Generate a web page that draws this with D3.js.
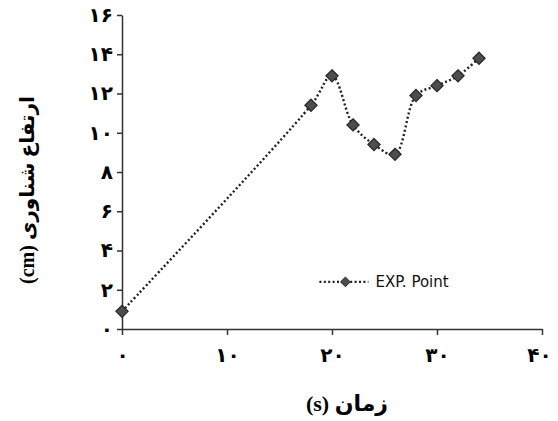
<!DOCTYPE html>
<html>
<head>
<meta charset="utf-8">
<script src="https://cdn.jsdelivr.net/npm/d3@7"></script>
<style>
  body { margin: 0; background: #fff; }
  #chart { width: 558px; height: 421px; }
</style>
</head>
<body>
<div id="chart"></div>
<script>
// time (s) and float height (cm)
const timeVals = [0, 18, 20, 22, 24, 26, 28, 30, 32, 34];
const heightVals = [0.9, 11.4, 12.9, 10.4, 9.4, 8.9, 11.9, 12.4, 12.9, 13.8];
const xTicks = [0, 10, 20, 30, 40];
const yTicks = [0, 2, 4, 6, 8, 10, 12, 14, 16];
const seriesName = "EXP. Point";
const xTitle = "زمان (s)";
const yTitle = "ارتفاع شناوری (cm)";

// persian digits for tick labels
const faDigits = "۰۱۲۳۴۵۶۷۸۹";
function toFa(n) { return String(n).replace(/[0-9]/g, d => faDigits[+d]); }

const margin = {top: 15, right: 16, bottom: 92, left: 122};
const W = 558, H = 421;
const width = W - margin.left - margin.right;
const height = H - margin.top - margin.bottom;

const svg = d3.select("#chart").append("svg")
  .attr("width", W).attr("height", H);
const g = svg.append("g")
  .attr("transform", `translate(${margin.left},${margin.top})`);

const x = d3.scaleLinear().domain([0, 40]).range([0, width]);
const y = d3.scaleLinear().domain([0, 16]).range([height, 0]);

const axisColor = "#333";
const tickFont = "'DejaVu Sans', sans-serif";
const titleFont = "'Liberation Serif', 'DejaVu Sans', serif";

// X axis
const gx = g.append("g")
  .attr("transform", `translate(0,${height})`)
  .call(d3.axisBottom(x).tickValues(xTicks).tickFormat(toFa).tickSize(6).tickSizeOuter(0).tickPadding(13));
// Y axis
const gy = g.append("g")
  .call(d3.axisLeft(y).tickValues(yTicks).tickFormat(toFa).tickSize(5).tickSizeOuter(0).tickPadding(4));

[gx, gy].forEach(a => {
  a.select(".domain").attr("stroke", axisColor).attr("stroke-width", 1.5);
  a.selectAll(".tick line").attr("stroke", axisColor).attr("stroke-width", 1.5);
  a.selectAll(".tick text")
    .attr("fill", "#000")
    .style("font-family", tickFont)
    .style("font-weight", "bold")
    .style("font-size", "20px");
});
// keep the last label inside the window
gx.selectAll(".tick text").filter(d => d === 40).attr("dx", -3);

// data line, smoothed and dotted
const pts = timeVals.map((t, i) => [t, heightVals[i]]);
const line = d3.line()
  .x(d => x(d[0]))
  .y(d => y(d[1]))
  .curve(d3.curveCatmullRom.alpha(0.5));

const dotStroke = "#222";
g.append("path")
  .datum(pts)
  .attr("d", line)
  .attr("fill", "none")
  .attr("stroke", dotStroke)
  .attr("stroke-width", 2.4)
  .attr("stroke-dasharray", "2,2.4");

const diamond = d3.symbol().type(d3.symbolDiamond2).size(95);

g.selectAll(".pt")
  .data(pts)
  .enter()
  .append("path")
    .attr("class", "pt")
    .attr("d", diamond)
    .attr("transform", d => `translate(${x(d[0])},${y(d[1])})`)
    .attr("fill", "#4d4d4d")
    .attr("stroke", "#262626")
    .attr("stroke-width", 1.2);

// legend
const lg = g.append("g").attr("transform", `translate(${x(18.8)},${y(2.4)})`);
lg.append("line")
  .attr("x1", 0).attr("x2", 49).attr("y1", 0).attr("y2", 0)
  .attr("stroke", dotStroke).attr("stroke-width", 2.4)
  .attr("stroke-dasharray", "2,2.4");
lg.append("path")
  .attr("d", d3.symbol().type(d3.symbolDiamond2).size(60))
  .attr("transform", "translate(26,0)")
  .attr("fill", "#4d4d4d").attr("stroke", "#262626");
lg.append("text")
  .attr("x", 56).attr("y", 5.5)
  .style("font-family", "'DejaVu Sans', sans-serif")
  .style("font-size", "15px")
  .attr("fill", "#111")
  .text(seriesName);

// axis titles
svg.append("text")
  .attr("x", 347).attr("y", 411)
  .attr("text-anchor", "middle")
  .attr("direction", "rtl")
  .style("font-family", titleFont)
  .style("font-weight", "bold")
  .style("font-size", "22px")
  .text(xTitle);

svg.append("text")
  .attr("transform", "translate(34,190) rotate(-90)")
  .attr("text-anchor", "middle")
  .attr("direction", "rtl")
  .style("font-family", titleFont)
  .style("font-weight", "bold")
  .style("font-size", "20px")
  .text(yTitle);
</script>
</body>
</html>
